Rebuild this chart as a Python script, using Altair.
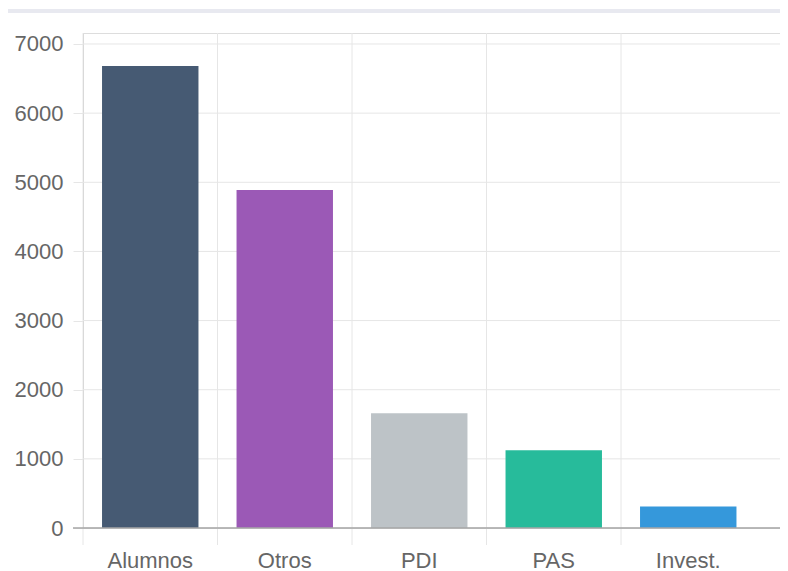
import altair as alt
import pandas as pd

categories = ["Alumnos", "Otros", "PDI", "PAS", "Invest."]
values = [6680, 4890, 1660, 1125, 310]
colors = ["#465a73", "#9b59b6", "#bdc3c7", "#27bb9b", "#3598db"]
y_ticks = [0, 1000, 2000, 3000, 4000, 5000, 6000, 7000]

df = pd.DataFrame({"cat": categories, "val": values})
grid_df = pd.DataFrame({"val": y_ticks})
zero_df = pd.DataFrame({"val": [0]})

PLOT_W = 697
PLOT_H = 495
X_RANGE = 672.5
STEP = X_RANGE / len(categories)
FONT = "Liberation Sans"
GRID = "#e6e6e6"

x_scale = alt.Scale(type="band", domain=categories, range=[0, X_RANGE],
                    paddingInner=0, paddingOuter=0)
y_scale = alt.Scale(domain=[0, 7159], nice=False, zero=True)

x_axis = alt.Axis(
    title=None,
    labelAngle=0,
    labelAlign="center",
    labelBaseline="top",
    grid=False,
    ticks=True,
    tickSize=17,
    tickOpacity=0,
    domain=False,
    labelFont=FONT,
    labelFontSize=22,
    labelColor="#666666",
    labelPadding=5,
    labelBound=False,
)

y_axis = alt.Axis(
    title=None,
    values=y_ticks,
    format="d",
    grid=False,
    tickSize=10,
    tickColor=GRID,
    domain=True,
    domainColor="#cccccc",
    labelFont=FONT,
    labelFontSize=22,
    labelColor="#666666",
    labelPadding=10,
)

bars = alt.Chart(df).mark_bar(width=alt.RelativeBandSize(0.717)).encode(
    x=alt.X("cat:N", sort=categories, scale=x_scale, axis=x_axis),
    y=alt.Y("val:Q", scale=y_scale, axis=y_axis),
    color=alt.Color(
        "cat:N",
        scale=alt.Scale(domain=categories, range=colors),
        legend=None,
    ),
)

hgrid = alt.Chart(grid_df).mark_rule(color=GRID, strokeWidth=1).encode(
    y=alt.Y("val:Q", scale=y_scale, axis=y_axis),
    x=alt.value(0),
    x2=alt.value(PLOT_W),
)

vgrid = alt.Chart(df).mark_rule(color=GRID, strokeWidth=1, xOffset=-STEP / 2).encode(
    x=alt.X("cat:N", sort=categories, scale=x_scale, axis=x_axis),
    y=alt.value(0),
    y2=alt.value(PLOT_H + 17),
)

zero_line = alt.Chart(zero_df).mark_rule(color="#a6a6a6", strokeWidth=1.5).encode(
    y=alt.Y("val:Q", scale=y_scale, axis=y_axis),
    x=alt.value(-10),
    x2=alt.value(PLOT_W),
)

top_line = alt.Chart(alt.Data(values=[{"a": 1}])).mark_rule(
    color="#e8e9f0", strokeWidth=4, clip=False
).encode(
    x=alt.value(-75),
    x2=alt.value(PLOT_W),
    y=alt.value(-22),
)

chart = alt.layer(top_line, hgrid, vgrid, bars, zero_line).properties(
    width=PLOT_W,
    height=PLOT_H,
    padding={"left": 75, "top": 25, "right": 0, "bottom": 50},
    autosize=alt.AutoSizeParams(type="none"),
).configure_view(stroke=None).configure(background="white")

chart.save("out.html", embed_options={"renderer": "svg", "actions": False})
